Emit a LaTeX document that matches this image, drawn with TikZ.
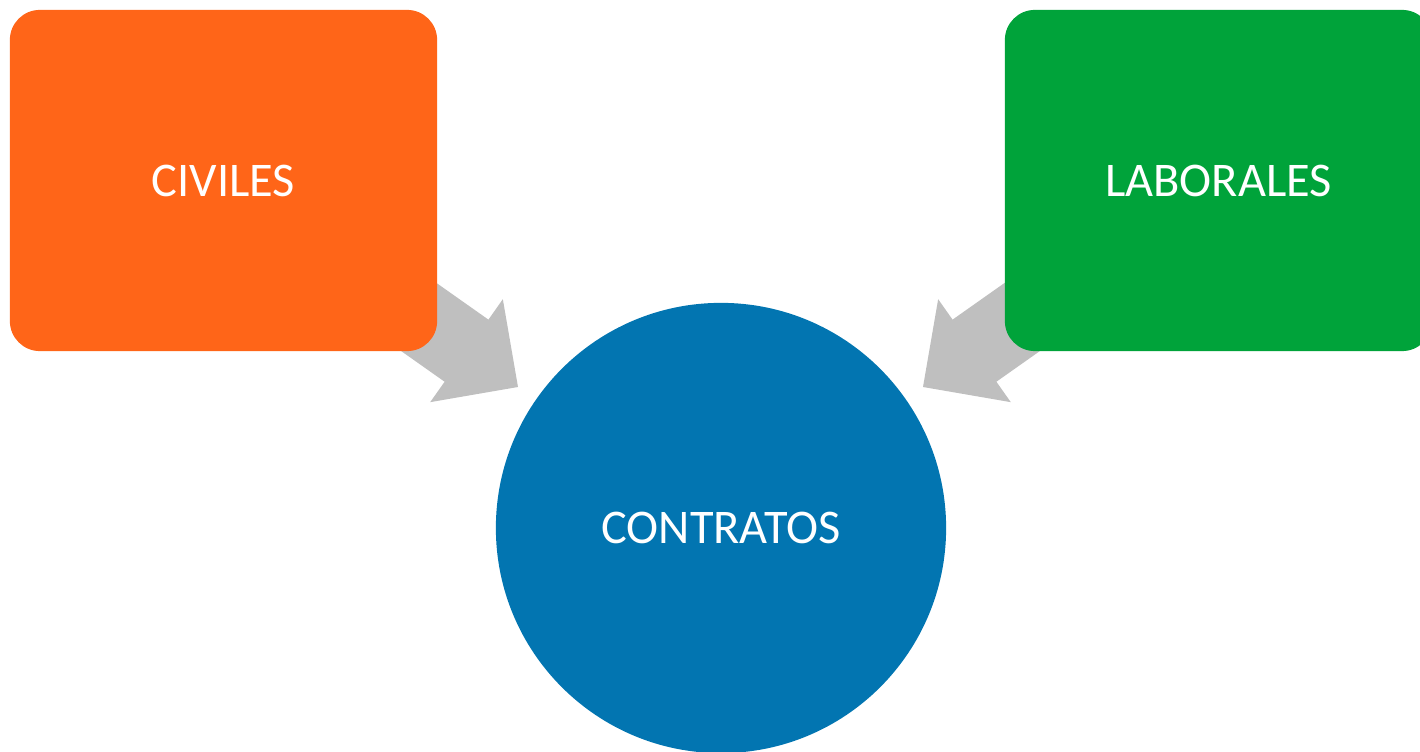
\documentclass[tikz,border=0pt]{standalone}
\usepackage{fontspec}
\setmainfont{Carlito}
\definecolor{corange}{RGB}{255,101,24}
\definecolor{cgreen}{RGB}{0,163,58}
\definecolor{cblue}{RGB}{2,117,177}
\definecolor{cgrey}{RGB}{191,191,191}
\begin{document}
\begin{tikzpicture}[x=0.01cm,y=-0.01cm,
  box/.style={rectangle, rounded corners=0.3cm, minimum width=4.27cm, minimum height=3.41cm, inner sep=0pt, text=white, font=\fontsize{13.75}{16}\selectfont},
  roundnode/.style={circle, minimum size=4.5cm, inner sep=0pt, fill=cblue, text=white, font=\fontsize{13.75}{16}\selectfont},
  blockarrow/.style={fill=cgrey}]
\useasboundingbox (0,0) rectangle (1420,752);
\clip (0,0) rectangle (1420,752);
\coordinate (tipL) at (518,387);
\coordinate (tipR) at (923,387);
\fill[blockarrow, shift={(tipL)}, rotate=-35.2] (0,0) -- (-63,-63) -- (-63,-38) -- (-190,-38) -- (-190,38) -- (-63,38) -- (-63,63) -- cycle;
\fill[blockarrow, shift={(tipR)}, rotate=-144.8] (0,0) -- (-63,-63) -- (-63,-38) -- (-190,-38) -- (-190,38) -- (-63,38) -- (-63,63) -- cycle;
\node[box, fill=corange] (civ) at (223.5,180.5) {CIVILES};
\node[box, fill=cgreen] (lab) at (1218.5,180.5) {LABORALES};
\node[roundnode] (con) at (721,528) {CONTRATOS};
\end{tikzpicture}
\end{document}
